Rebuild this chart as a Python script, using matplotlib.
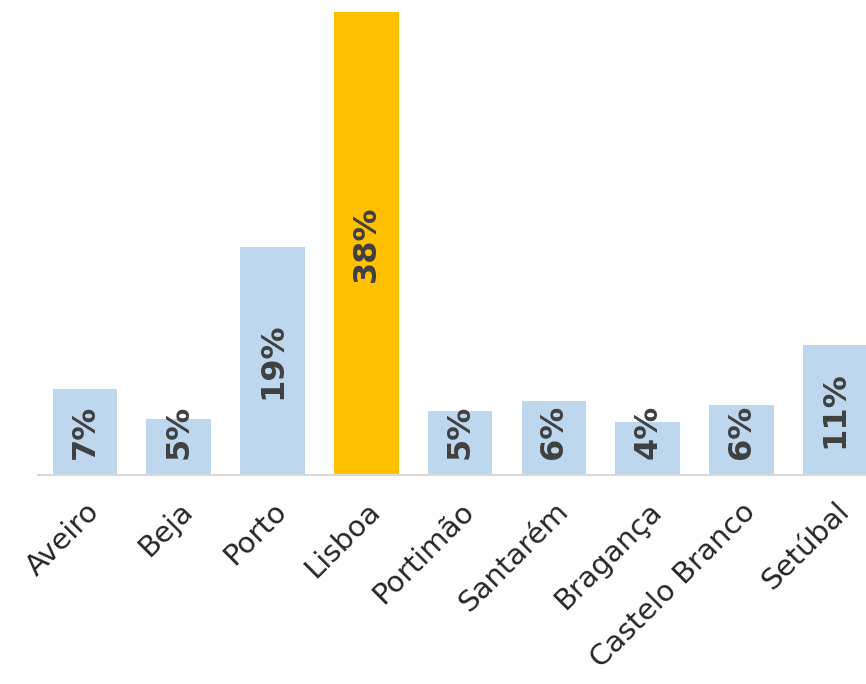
import matplotlib.pyplot as plt

cidades = ['Aveiro', 'Beja', 'Porto', 'Lisboa', 'Portimão', 'Santarém',
           'Bragança', 'Castelo Branco', 'Setúbal']
valores = [7.05, 4.6, 18.7, 38.0, 5.25, 6.1, 4.35, 5.75, 10.7]
rotulos = ['7%', '5%', '19%', '38%', '5%', '6%', '4%', '6%', '11%']

azul = '#BDD7EE'
dourado = '#FFC000'
cores = [dourado if c == 'Lisboa' else azul for c in cidades]

fig = plt.figure(figsize=(8.66, 6.84), dpi=100)
ax = fig.add_axes([38 / 866, 209 / 684, 9 * 93.8 / 866, 463 / 684])

x = range(len(cidades))
bars = ax.bar(x, valores, width=0.69, color=cores)

# os rotulos das barras baixas ficam todos a mesma altura
for b, txt in zip(bars, rotulos):
    y = max(b.get_height() / 2, 3.55)
    ax.text(b.get_x() + b.get_width() / 2, y, txt,
            rotation=90, ha='center', va='center', fontsize=23,
            fontweight='bold', color='#404040')

ax.set_xlim(-0.5, len(cidades) - 0.5)
ax.set_ylim(0, 38)
ax.set_xticks(list(x))
ax.set_xticklabels(cidades, rotation=45, ha='right', rotation_mode='anchor',
                   fontsize=21, color='#262626')
ax.tick_params(axis='x', length=0, pad=16)
ax.set_yticks([])
for s in ['top', 'right', 'left']:
    ax.spines[s].set_visible(False)
ax.spines['bottom'].set_color('#D9D9D9')
ax.spines['bottom'].set_linewidth(1.5)

fig.savefig('out.png', dpi=100)
